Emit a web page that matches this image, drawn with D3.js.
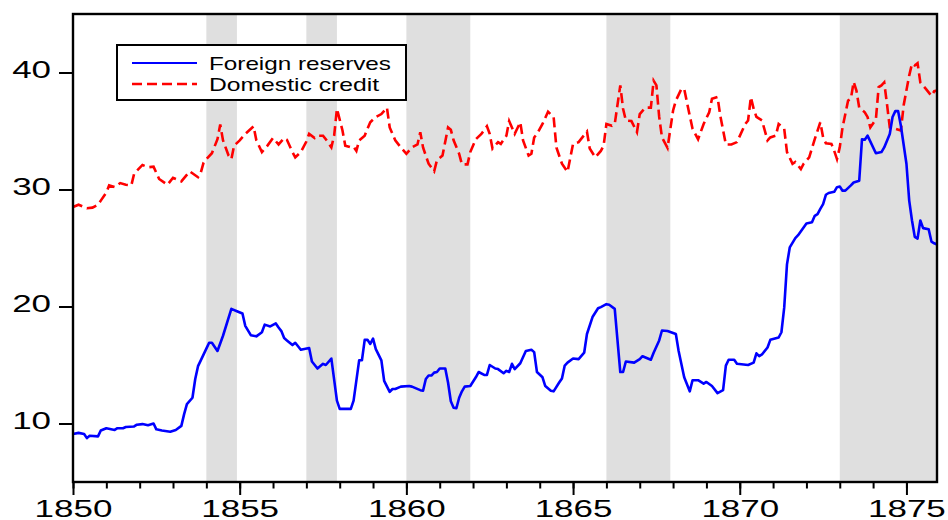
<!DOCTYPE html>
<html>
<head>
<meta charset="utf-8">
<script src="https://cdn.jsdelivr.net/npm/d3@7"></script>
<style>
	body { margin: 0; background: #fff; }
	text { font-family: "Liberation Sans", Arial, sans-serif; fill: #000; }
</style>
</head>
<body>
<div id="chart"></div>
<script>

// months counted from 1850M01
var fxMonth = [0,2,4,5,6,9,10,12,15,16,18,19,22,23,25,27,29,30,32,35,37,39,40,41,43,44,45,46,48,49,50,52,54,57,59,61,62,64,66,68,69,71,73,74,75,76,77,78,79,80,82,85,86,88,90,91,93,95,96,100,101,103,104,105,106,107,108,109,111,112,114,115,116,118,121,122,125,126,127,128,129,130,131,132,134,135,136,137,138,139,140,141,143,145,146,148,149,150,152,153,155,156,157,158,159,161,163,165,166,167,169,170,172,173,175,176,177,178,180,182,184,185,187,189,190,192,193,195,197,198,199,202,204,205,208,209,211,212,214,217,218,220,222,223,225,227,228,230,232,234,235,236,238,239,243,245,246,247,248,250,251,254,255,256,257,258,260,261,264,266,267,268,269,270,271,272,274,275,276,277,278,280,281,283,284,285,286,289,291,292,294,295,296,297,298,300,301,302,303,304,305,306,308,309,310,311];
var fxValue = [9.1,9.2,9.1,8.75,8.95,8.9,9.4,9.6,9.45,9.6,9.6,9.7,9.75,9.9,9.95,9.85,10.0,9.5,9.4,9.3,9.45,9.8,10.8,11.65,12.2,13.8,14.9,15.4,16.4,16.9,16.9,16.2,17.5,19.8,19.6,19.4,18.35,17.55,17.45,17.8,18.45,18.3,18.55,18.2,17.9,17.3,17.1,16.9,16.7,16.9,16.3,16.45,15.3,14.7,15.1,15.0,15.55,11.95,11.25,11.25,11.95,15.4,15.4,17.15,17.15,16.8,17.25,16.35,15.4,13.65,12.7,12.95,12.95,13.15,13.2,13.15,12.85,12.8,13.8,14.1,14.1,14.35,14.4,14.7,14.7,13.5,11.9,11.35,11.3,12.2,12.75,13.15,13.2,13.95,14.4,14.15,14.15,15.0,14.7,14.65,14.3,14.5,14.4,15.1,14.65,15.15,16.2,16.3,16.1,14.4,13.95,13.2,12.8,12.75,13.5,13.85,14.95,15.2,15.55,15.5,16.05,17.65,19.1,19.85,19.95,20.2,20.15,19.8,14.4,14.4,15.3,15.2,15.5,15.75,15.45,16.05,17.1,17.95,17.9,17.65,16.2,13.95,12.75,13.7,13.7,13.4,13.55,13.2,12.6,12.85,14.95,15.45,15.45,15.1,15.0,15.2,16.0,15.75,15.9,16.5,17.15,17.35,17.8,19.9,23.6,25.05,25.85,26.1,27.1,27.2,27.75,27.9,28.35,28.75,29.55,29.7,29.8,30.2,30.25,29.9,29.9,30.35,30.6,30.75,34.3,34.25,34.6,33.1,33.2,33.6,34.75,36.2,36.7,36.7,35.45,32.2,29.05,27.35,25.95,25.8,27.35,26.7,26.6,25.55,25.4,25.3];

var dcMonth = [0,2,4,5,7,9,10,12,13,15,17,19,21,22,25,27,29,31,34,36,37,39,42,45,46,47,48,50,52,53,54,56,57,58,60,62,65,66,68,70,72,74,76,77,79,80,82,84,85,87,88,90,91,93,94,95,97,98,100,101,102,103,105,106,107,109,111,113,114,116,118,120,122,124,125,126,128,130,131,133,135,136,137,139,140,142,143,145,147,149,150,151,153,154,156,157,158,159,161,162,164,165,166,167,169,171,173,174,176,178,180,182,185,186,188,190,191,192,194,195,197,198,199,201,203,204,206,208,209,210,211,212,214,216,217,219,220,222,223,225,227,229,230,232,233,235,237,239,242,243,244,245,246,248,250,251,253,254,256,257,259,260,262,263,265,267,269,270,271,273,274,275,276,277,279,280,281,282,283,285,286,287,289,290,291,292,293,294,296,298,299,301,302,303,304,305,307,309,310,311];
var dcValue = [28.5,28.7,28.5,28.4,28.45,28.7,29.05,29.75,30.35,30.2,30.55,30.4,30.35,31.35,32.1,31.9,31.95,30.9,30.4,31.0,30.9,30.7,31.55,31.05,31.45,32.3,32.6,33.1,34.3,35.55,34.2,32.9,32.6,33.75,34.2,34.75,35.4,34.2,33.2,33.75,34.4,33.85,34.4,34.25,33.2,32.75,33.2,34.1,34.75,34.4,34.6,34.6,34.3,33.6,34.6,36.9,35.05,33.75,33.6,33.65,33.3,34.2,34.6,35.2,35.75,36.2,36.45,37.0,35.3,34.2,33.6,33.05,33.6,33.85,34.9,33.6,32.2,31.55,32.5,32.9,35.3,35.1,34.2,33.05,32.15,32.15,33.2,34.3,34.75,35.4,34.75,33.5,34.05,33.9,34.6,35.85,35.3,34.75,35.75,34.2,32.9,33.05,34.45,34.75,35.6,36.65,36.2,33.6,32.2,31.5,33.9,34.05,34.95,33.5,32.75,33.3,33.75,35.6,35.45,35.6,38.9,36.9,35.9,35.85,34.9,36.45,37.0,37.0,39.3,38.9,36.2,34.45,33.55,36.75,37.6,38.6,38.6,36.3,35.2,34.3,35.6,36.6,37.75,37.9,36.3,33.85,33.85,34.05,35.6,35.9,37.9,36.9,36.2,35.9,34.2,34.45,34.6,35.6,35.2,33.2,32.2,32.35,31.75,32.2,32.75,34.3,35.75,34.45,33.95,33.9,33.3,32.6,33.6,35.3,37.6,37.75,39.2,38.45,37.0,36.6,36.2,35.3,36.0,38.75,38.9,39.15,37.3,35.3,35.2,35.05,37.2,39.75,40.75,40.6,40.8,39.15,38.6,38.0,38.4,38.45];

// shaded periods, first and last year
var shadeFrom = [1854, 1857, 1860, 1866, 1873];
var shadeTo = [1854, 1857, 1861, 1867, 1875];

var yearTicks = [1850, 1855, 1860, 1865, 1870, 1875];
var valueTicks = [10, 20, 30, 40];
var seriesNames = ["Foreign reserves", "Domestic credit"];

var W = 948, H = 520;
var plotLeft = 73, plotRight = 937, plotTop = 14, plotBottom = 482;
var stretch = 1.52;

var svg = d3.select("#chart").append("svg")
	.attr("width", W)
	.attr("height", H);

var x = d3.scaleLinear().domain([1850, 1875 + 11/12]).range([plotLeft, plotRight]);
var y = d3.scaleLinear().domain([5, 45]).range([plotBottom, plotTop]);

// shading
svg.selectAll("rect.shade")
	.data(d3.range(shadeFrom.length))
	.enter()
	.append("rect")
	.attr("class", "shade")
	.attr("x", function(i) { return x(shadeFrom[i]); })
	.attr("y", plotTop)
	.attr("width", function(i) { return x(shadeTo[i] + 11/12) - x(shadeFrom[i]); })
	.attr("height", plotBottom - plotTop)
	.attr("fill", "#dfdfdf");

var fx = fxMonth.map(function(m, i) { return {t: 1850 + m/12, v: fxValue[i]}; });
var dc = dcMonth.map(function(m, i) { return {t: 1850 + m/12, v: dcValue[i]}; });

var line = d3.line()
	.x(function(d) { return x(d.t); })
	.y(function(d) { return y(d.v); });

svg.append("path")
	.datum(dc)
	.attr("d", line)
	.attr("fill", "none")
	.attr("stroke", "#ff0000")
	.attr("stroke-width", 2.6)
	.attr("stroke-dasharray", "10,5");

svg.append("path")
	.datum(fx)
	.attr("d", line)
	.attr("fill", "none")
	.attr("stroke", "#0000ff")
	.attr("stroke-width", 2.6)
	.attr("stroke-linejoin", "round");

// axes
var yAxis = svg.append("g")
	.attr("transform", "translate(" + plotLeft + ",0)")
	.call(d3.axisLeft(y).tickValues(valueTicks).tickSize(14).tickPadding(8).tickFormat(d3.format("d")));

yAxis.selectAll("text")
	.attr("x", -22 / stretch)
	.attr("dy", "0.23em")
	.attr("transform", "scale(" + stretch + ",1)");

svg.append("g")
	.attr("transform", "translate(0," + plotBottom + ")")
	.call(d3.axisBottom(x).tickValues(d3.range(1850, 1876)).tickSize(6.5).tickFormat(""));

var xAxis = svg.append("g")
	.attr("transform", "translate(0," + plotBottom + ")")
	.call(d3.axisBottom(x).tickValues(yearTicks).tickSize(13).tickPadding(6).tickFormat(d3.format("d")));

xAxis.selectAll("text")
	.attr("x", 0)
	.attr("transform", "scale(" + stretch + ",1)");

svg.selectAll(".domain").remove();
svg.selectAll(".tick line").attr("stroke", "#000").attr("stroke-width", 2);
svg.selectAll(".tick text").attr("font-size", "23px").attr("font-family", "'Liberation Sans', Arial, sans-serif");

// frame
svg.append("rect")
	.attr("x", plotLeft)
	.attr("y", plotTop)
	.attr("width", plotRight - plotLeft)
	.attr("height", plotBottom - plotTop)
	.attr("fill", "none")
	.attr("stroke", "#000")
	.attr("stroke-width", 2.4);

// legend
var legend = svg.append("g");

legend.append("rect")
	.attr("x", 117)
	.attr("y", 45)
	.attr("width", 289)
	.attr("height", 55)
	.attr("fill", "#fff")
	.attr("stroke", "#000")
	.attr("stroke-width", 2);

legend.append("line")
	.attr("x1", 132).attr("x2", 197)
	.attr("y1", 63).attr("y2", 63)
	.attr("stroke", "#0000ff")
	.attr("stroke-width", 2);

legend.append("line")
	.attr("x1", 132).attr("x2", 197)
	.attr("y1", 84).attr("y2", 84)
	.attr("stroke", "#ff0000")
	.attr("stroke-width", 2.4)
	.attr("stroke-dasharray", "10,5");

legend.append("text")
	.attr("x", 209).attr("y", 69.5)
	.attr("font-size", "18.5px")
	.attr("textLength", 182)
	.attr("lengthAdjust", "spacingAndGlyphs")
	.text(seriesNames[0]);

legend.append("text")
	.attr("x", 209).attr("y", 90.5)
	.attr("font-size", "18.5px")
	.attr("textLength", 170)
	.attr("lengthAdjust", "spacingAndGlyphs")
	.text(seriesNames[1]);

</script>
</body>
</html>
